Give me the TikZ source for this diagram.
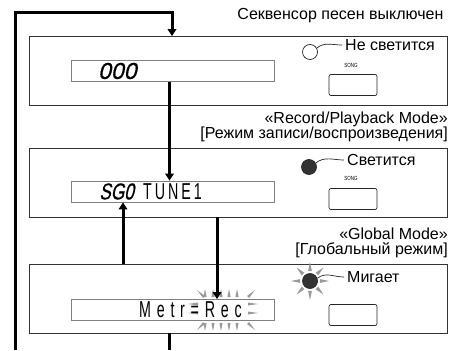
\documentclass[tikz,border=0pt]{standalone}
\usepackage{fontspec}
\setmainfont{Liberation Sans}
\newfontfamily\lcdfont[FakeStretch=0.62,LetterSpace=13]{Liberation Sans}
\newfontfamily\lcdwide[FakeStretch=0.62,LetterSpace=25]{Liberation Sans}
\newfontfamily\segfont[FakeSlant=0.22,FakeBold=0.6]{Liberation Sans}
\newfontfamily\segtight[FakeStretch=0.75,FakeSlant=0.22,FakeBold=0.6]{Liberation Sans}
\newfontfamily\tinyfont[FakeStretch=0.75]{Liberation Sans}
\usetikzlibrary{arrows.meta}

\begin{document}
\begin{tikzpicture}[
    x=1pt, y=-1pt,
    panel/.style={
        draw=black!80,
        line width=0.8pt,
        minimum width=418pt,
        minimum height=69pt,
        inner sep=0pt
    },
    lcd/.style={
        draw=black!50,
        line width=0.8pt,
        minimum width=203pt,
        minimum height=21pt,
        inner sep=0pt
    },
    lcdtext/.style={
        anchor=west,
        inner sep=0pt
    },
    label/.style={
        inner sep=0pt,
        align=right,
        font=\fontsize{16}{15.5}\selectfont
    },
    ledtext/.style={
        anchor=west,
        inner sep=0pt,
        font=\fontsize{16}{16}\selectfont
    },
    led/.style={
        circle,
        draw=black!85,
        line width=0.7pt,
        minimum size=15pt,
        inner sep=0pt
    },
    button/.style={
        draw=black!85,
        line width=0.7pt,
        rounded corners=2pt,
        minimum width=48pt,
        minimum height=21pt,
        inner sep=0pt
    },
    songtext/.style={
        inner sep=0pt,
        font=\tinyfont\fontsize{6}{6}\selectfont
    },
    leader/.style={
        draw=black!85,
        line width=0.7pt
    },
    ray/.style={
        fill=black!40
    },
    flow/.style={
        line width=3pt,
        -{Triangle[length=7pt,width=8.5pt]}
    },
    flowline/.style={
        line width=3pt
    }
]

\useasboundingbox (0,0) rectangle (454,350);

\node[label, anchor=east] (offnote) at (448,16)
{
    Секвенсор песен выключен
};

\node[panel] (p1) at (238,71) {};
\node[lcd] (d1) at (172.5,71) {};
\node[lcdtext, font=\segfont\fontsize{23}{23}\selectfont] (d1txt) at (98,71) {000};
\node[led] (led1) at (310,52) {};
\node[ledtext] (led1txt) at (345,45) {Не светится};
\node[songtext] (song1) at (351,65) {SONG};
\node[button] (btn1) at (353,85) {};

\node[label, anchor=east] (recmode) at (448,127)
{
    «Record/Playback Mode»\\
    {[Режим записи/воспроизведения]}
};

\node[panel] (p2) at (238,182.5) {};
\node[lcd] (d2) at (172.5,191.5) {};
\node[lcdtext, font=\segtight\fontsize{23}{23}\selectfont] (d2seg) at (99,191.5) {SG0};
\node[lcdtext, font=\lcdfont\fontsize{23}{23}\selectfont] (d2txt) at (143,191.5) {TUNE1};
\node[led, fill=black!80] (led2) at (309,167) {};
\node[ledtext] (led2txt) at (347,160) {Светится};
\node[songtext] (song2) at (351,178) {SONG};
\node[button] (btn2) at (353,199) {};

\node[label, anchor=east] (globmode) at (448,243)
{
    «Global Mode»\\
    {[Глобальный режим]}
};

\node[panel] (p3) at (238,298.5) {};

\foreach \x in {205,213,221,229,237} {
    \fill[ray] (\x-1.6,297) -- (\x+1.6,297) -- (\x,289) -- cycle;
    \fill[ray] (\x-1.6,323) -- (\x+1.6,323) -- (\x,331) -- cycle;
}
\fill[ray] (197,290) -- (205,296) -- (203,298) -- cycle;
\fill[ray] (255,290) -- (247,296) -- (249,298) -- cycle;
\fill[ray] (197,330) -- (205,324) -- (203,322) -- cycle;
\fill[ray] (255,330) -- (247,324) -- (249,322) -- cycle;
\fill[ray] (248,302.5) -- (248,305.5) -- (258,304) -- cycle;
\fill[ray] (248,311.5) -- (248,314.5) -- (258,313) -- cycle;
\fill[ray] (198,302.5) -- (198,305.5) -- (188,304) -- cycle;
\fill[ray] (198,311.5) -- (198,314.5) -- (188,313) -- cycle;

\node[lcd] (d3) at (172.5,310) {};
\node[lcdtext, font=\lcdwide\fontsize{23}{23}\selectfont] (d3txt) at (139,310) {Metr=Rec};

\foreach \a in {0,45,...,315} {
    \fill[ray] ([shift={(\a+11:10)}]310,281) -- ([shift={(\a:19)}]310,281) -- ([shift={(\a-11:10)}]310,281) -- cycle;
}
\node[led, fill=black!80] (led3) at (310,281) {};
\node[ledtext] (led3txt) at (347,277) {Мигает};
\node[button] (btn3) at (353,315) {};

\draw[leader] (led1.30) to[out=40,in=180] ([xshift=-3pt]led1txt.west);
\draw[leader] (led2.30) to[out=40,in=180] ([xshift=-3pt]led2txt.west);
\draw[leader] (led3.20) to[out=40,in=180] ([xshift=-3pt]led3txt.west);

\coordinate (loopin) at (15,350);
\coordinate (loopturn) at (172,13);
\coordinate (upx) at (123,0);
\coordinate (downx) at (217,0);
\coordinate (loopout) at (169,350);

\draw[flow] (loopin) |- (loopturn) -- (loopturn |- p1.north);
\draw[flow] ([xshift=-3pt]d1.south) -- ([xshift=-3pt]d2.north);
\draw[flow] (upx |- p3.north) -- (upx |- d2.south);
\draw[flow] (downx |- p2.south) -- (downx |- d3.north);
\draw[flowline] (loopout |- p3.south) -- (loopout);

\end{tikzpicture}
\end{document}
